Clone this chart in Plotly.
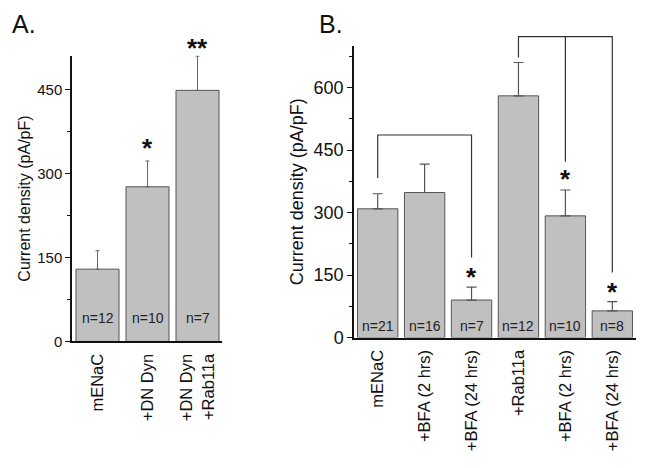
import plotly.graph_objects as go

W, H = 647, 468          # browser window
OFF = 8                  # default body margin of the html page
FW, FH = W - 2 * OFF, H - 2 * OFF
FONT = "Liberation Sans, Arial, sans-serif"

# ---------------- data ----------------
a_cats = ["mENaC", "+DN Dyn", "+DN Dyn<br>+Rab11a"]
a_vals = [129, 276, 448]
a_err = [33, 46, 61]
a_n = ["n=12", "n=10", "n=7"]
a_stars = ["", "*", "**"]
a_star_y = [0, 345, 523]
a_n_y = 42

b_cats = ["mENaC", "+BFA (2 hrs)", "+BFA (24 hrs)", "+Rab11a", "+BFA (2 hrs)", "+BFA (24 hrs)"]
b_vals = [309, 348, 90, 580, 292, 64]
b_err = [36, 68, 31, 80, 62, 22]
b_n = ["n=21", "n=16", "n=7", "n=12", "n=10", "n=8"]
b_stars = ["", "", "*", "", "*", "*"]
b_star_y = [0, 0, 145, 0, 380, 110]
b_n_y = 28

# significance brackets (panel B): top level and leg bottoms
br1_x = [0, 2]
br1_top = 486
br1_legs = [383, 192]
br2_x = [3, 4, 5]
br2_top = 722
br2_legs = [672, 422, 156]

A_RANGE = [0, 510]
B_RANGE = [0, 700]
B_EXT = 735

# ---------------- layout geometry (window pixels) ----------------
ax_l, ax_r, ay_b, ay_t = 72, 222, 349, 56.7
bx_l, bx_r, by_b, by_t = 354, 636, 345, 46.7


def fx(px):
    return (px - OFF) / FW


def fy(py):
    return 1 - (py - OFF) / FH


a_xdom = [fx(ax_l), fx(ax_r)]
a_ydom = [fy(ay_b), fy(ay_t)]
b_xdom = [fx(bx_l), fx(bx_r)]
b_ydom = [fy(by_b), fy(by_t)]
b3_ydom = [b_ydom[0], b_ydom[0] + (b_ydom[1] - b_ydom[0]) * B_EXT / B_RANGE[1]]
a_px_per_unit = (ay_b - ay_t) / A_RANGE[1]

BAR_FILL = "#c0c0c0"
BAR_LINE = "#555555"

fig = go.Figure()

fig.add_trace(go.Bar(
    x=list(range(len(a_cats))), y=a_vals, xaxis="x", yaxis="y",
    marker=dict(color=BAR_FILL, line=dict(color=BAR_LINE, width=1)),
    error_y=dict(type="data", array=a_err, arrayminus=[0] * 3, symmetric=False,
                 color="#666666", thickness=1, width=2),
    showlegend=False, hoverinfo="skip"))

fig.add_trace(go.Bar(
    x=list(range(len(b_cats))), y=b_vals, xaxis="x2", yaxis="y2",
    marker=dict(color=BAR_FILL, line=dict(color=BAR_LINE, width=1)),
    error_y=dict(type="data", array=b_err, arrayminus=[0] * 6, symmetric=False,
                 color="#555555", thickness=1.2, width=5),
    showlegend=False, hoverinfo="skip"))

# brackets on a hidden subplot sharing panel B's scale (taller so they are not clipped)
BR_STYLE = dict(color="#333333", width=1.2)
fig.add_trace(go.Scatter(x=[br1_x[0], br1_x[0], br1_x[1], br1_x[1]],
                         y=[br1_legs[0], br1_top, br1_top, br1_legs[1]],
                         mode="lines", xaxis="x3", yaxis="y3", line=BR_STYLE,
                         showlegend=False, hoverinfo="skip"))
fig.add_trace(go.Scatter(x=[br2_x[0], br2_x[0], br2_x[2], br2_x[2]],
                         y=[br2_legs[0], br2_top, br2_top, br2_legs[2]],
                         mode="lines", xaxis="x3", yaxis="y3", line=BR_STYLE,
                         showlegend=False, hoverinfo="skip"))
fig.add_trace(go.Scatter(x=[br2_x[1], br2_x[1]], y=[br2_top, br2_legs[1]],
                         mode="lines", xaxis="x3", yaxis="y3", line=BR_STYLE,
                         showlegend=False, hoverinfo="skip"))

annotations = []
for i, t in enumerate(a_n):
    annotations.append(dict(x=i, y=a_n_y, xref="x", yref="y", text=t, showarrow=False,
                            font=dict(family=FONT, size=14, color="#222")))
for i, t in enumerate(a_stars):
    if t:
        yv = min(a_star_y[i], A_RANGE[1])
        shift = (a_star_y[i] - yv) * a_px_per_unit
        annotations.append(dict(x=i, y=yv, xref="x", yref="y", text="<b>%s</b>" % t,
                                showarrow=False, yshift=shift,
                                font=dict(family=FONT, size=26, color="#111")))
for i, t in enumerate(b_n):
    annotations.append(dict(x=i, y=b_n_y, xref="x2", yref="y2", text=t, showarrow=False,
                            font=dict(family=FONT, size=14, color="#222")))
for i, t in enumerate(b_stars):
    if t:
        annotations.append(dict(x=i, y=b_star_y[i], xref="x2", yref="y2", text="<b>%s</b>" % t,
                                showarrow=False,
                                font=dict(family=FONT, size=26, color="#111")))

annotations.append(dict(x=fx(10), y=fy(24), xref="paper", yref="paper", text="A.",
                        showarrow=False, xanchor="left", yanchor="middle",
                        font=dict(family=FONT, size=25, color="#111")))
annotations.append(dict(x=fx(317), y=fy(24), xref="paper", yref="paper", text="B.",
                        showarrow=False, xanchor="left", yanchor="middle",
                        font=dict(family=FONT, size=25, color="#111")))

common_x = dict(showline=True, linecolor="#111", linewidth=1.5, ticks="", showgrid=False,
                zeroline=False, tickangle=-90, tickmode="array", ticklabelstandoff=4,
                tickfont=dict(family=FONT, size=16.5, color="#111"))
common_y = dict(showline=True, linecolor="#111", linewidth=1.5, ticks="outside", ticklen=5,
                tickwidth=1.3, tickcolor="#111", showgrid=False, zeroline=False,
                tickmode="linear", tick0=0, dtick=150,
                minor=dict(ticks="outside", ticklen=3, tickwidth=1.2, tickcolor="#111",
                           dtick=75, tick0=0, showgrid=False))

fig.update_layout(
    width=FW, height=FH, autosize=False,
    margin=dict(l=0, r=0, t=0, b=0),
    paper_bgcolor="white", plot_bgcolor="rgba(0,0,0,0)",
    bargap=0.14,
    xaxis=dict(domain=a_xdom, range=[-0.51, 2.49], anchor="y",
               tickvals=list(range(len(a_cats))), ticktext=a_cats, **common_x),
    yaxis=dict(domain=a_ydom, range=A_RANGE, anchor="x",
               tickfont=dict(family=FONT, size=15, color="#111"),
               title=dict(text="Current density (pA/pF)", standoff=3,
                          font=dict(family=FONT, size=16, color="#111")),
               **common_y),
    xaxis2=dict(domain=b_xdom, range=[-0.505, 5.505], anchor="y2",
                tickvals=list(range(len(b_cats))), ticktext=b_cats, **common_x),
    yaxis2=dict(domain=b_ydom, range=B_RANGE, anchor="x2",
                tickfont=dict(family=FONT, size=18, color="#111"),
                title=dict(text="Current density (pA/pF)", standoff=5,
                           font=dict(family=FONT, size=18, color="#111")),
                **common_y),
    xaxis3=dict(domain=b_xdom, range=[-0.505, 5.505], anchor="y3", visible=False),
    yaxis3=dict(domain=b3_ydom, range=[0, B_EXT], anchor="x3", visible=False),
    annotations=annotations,
)

fig.write_html("out.html", config={"displayModeBar": False})
